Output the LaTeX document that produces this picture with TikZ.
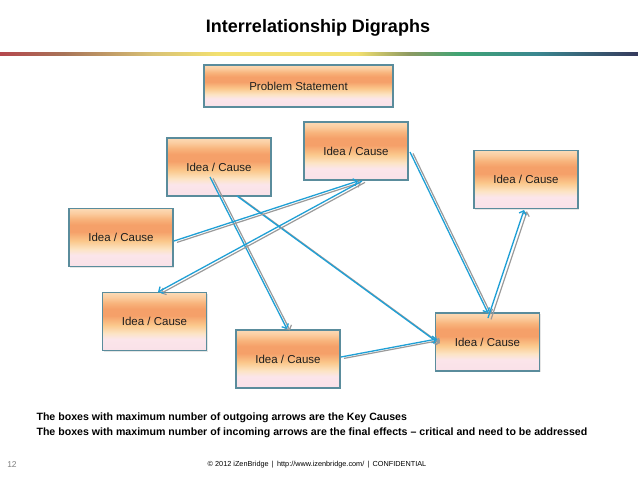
\documentclass[tikz,border=0pt]{standalone}
\usepackage{fontspec}
\setmainfont{Liberation Sans}
\usetikzlibrary{calc,arrows.meta,shadows}
\definecolor{pinkb}{HTML}{F9E1E8}
\definecolor{pinkc}{HTML}{FBE5EA}
\definecolor{cream}{HTML}{FCE4C4}
\definecolor{peach}{HTML}{FBC88C}
\definecolor{orangec}{HTML}{F5A069}
\definecolor{lightor}{HTML}{F8B47C}
\definecolor{upper}{HTML}{FBCDA0}
\definecolor{topc}{HTML}{FCDAB6}
\definecolor{boxline}{HTML}{5A8C9C}
\definecolor{textc}{HTML}{1E1E1E}
\definecolor{arrblue}{HTML}{1FA0D6}
\definecolor{arrgrey}{HTML}{9A9A9A}
\definecolor{r0}{HTML}{B5474D}
\definecolor{r1}{HTML}{A87458}
\definecolor{r2}{HTML}{D9C275}
\definecolor{r3}{HTML}{F2E070}
\definecolor{r4}{HTML}{8E9A62}
\definecolor{r5}{HTML}{3FA474}
\definecolor{r6}{HTML}{3A8790}
\definecolor{r7}{HTML}{363A5C}
\pgfdeclareverticalshading{boxshade}{100bp}{color(0bp)=(pinkb); color(25bp)=(pinkb); color(35bp)=(pinkc); color(40bp)=(cream); color(47bp)=(peach); color(55bp)=(orangec); color(61bp)=(orangec); color(66bp)=(lightor); color(71bp)=(upper); color(75bp)=(topc); color(100bp)=(topc)}
\pgfdeclarehorizontalshading{rulesh}{100bp}{color(0bp)=(r0); color(25bp)=(r0); color(30bp)=(r1); color(37bp)=(r2); color(42bp)=(r3); color(53bp)=(r3); color(57bp)=(r4); color(61bp)=(r5); color(67bp)=(r6); color(75bp)=(r7); color(100bp)=(r7)}
\tikzset{
  box/.style={draw=boxline, line width=1.1pt, shading=boxshade,
    minimum width=104pt, minimum height=58pt, inner sep=0pt,
    font=\fontsize{11.5}{13}\selectfont, text=textc,
    drop shadow={shadow xshift=1.2pt, shadow yshift=-1.2pt, opacity=.2, fill=gray}},
  bl/.style={draw=arrblue, line width=1.3pt, -{Straight Barb[length=3.5pt,width=7.5pt]}},
  gr/.style={draw=arrgrey, line width=1.2pt, -{Straight Barb[length=3.5pt,width=7.5pt]},
    transform canvas={shift={(3pt,-1.4pt)}}},
  note/.style={anchor=west, font=\bfseries\fontsize{10.6}{12}\selectfont, text=black}
}
\newcommand\dblarrow[2]{\draw[gr] (#1) -- (#2); \draw[bl] (#1) -- (#2);}
\begin{document}
\begin{tikzpicture}[x=1pt,y=-1pt]
\useasboundingbox (0,0) rectangle (638,479);
\fill[white] (0,0) rectangle (638,479);
\shade[shading=rulesh] (0,52.5) rectangle (638,55);
\node[font=\bfseries\fontsize{18}{20}\selectfont] (title) at (318,28) {Interrelationship Digraphs};

\node[box, minimum width=189pt, minimum height=42pt] (PS) at (298.5,86) {Problem Statement};
\node[box] (A) at (219,167) {Idea / Cause};
\node[box] (B) at (356,151) {Idea / Cause};
\node[box] (C) at (526,179.5) {Idea / Cause};
\node[box] (D) at (121,237.5) {Idea / Cause};
\node[box] (E) at (154.5,321.5) {Idea / Cause};
\node[box] (F) at (288,359) {Idea / Cause};
\node[box] (G) at (487.5,342) {Idea / Cause};

\coordinate (a1) at (210,177);
\coordinate (f1) at (287,329);
\coordinate (a2) at (237,196);
\coordinate (g1) at (437,342);
\coordinate (d1) at (174,241);
\coordinate (b1) at (358,181);
\coordinate (b2) at (362,181);
\coordinate (e1) at (158,292);
\coordinate (b3) at (410,152);
\coordinate (g2) at (488,313);
\coordinate (g3) at (488,318);
\coordinate (c1) at (524,210);
\coordinate (f2) at (341,357);
\coordinate (g4) at (437,339);

\dblarrow{a1}{f1}
\dblarrow{a2}{g1}
\dblarrow{d1}{b1}
\dblarrow{b2}{e1}
\dblarrow{b3}{g2}
\dblarrow{g3}{c1}
\dblarrow{f2}{g4}

\node[note] (t1) at (33,418) {The boxes with maximum number of outgoing arrows are the Key Causes};
\node[note] (t2) at (33,433) {The boxes with maximum number of incoming arrows are the final effects – critical and need to be addressed};
\node[font=\fontsize{7.3}{8}\selectfont, text=black] (foot) at (317,465) {© 2012 iZenBridge \,|\, http://www.izenbridge.com/ \,|\, CONFIDENTIAL};
\node[font=\fontsize{8.5}{9}\selectfont, text=gray] (num) at (12,465) {12};
\end{tikzpicture}
\end{document}
